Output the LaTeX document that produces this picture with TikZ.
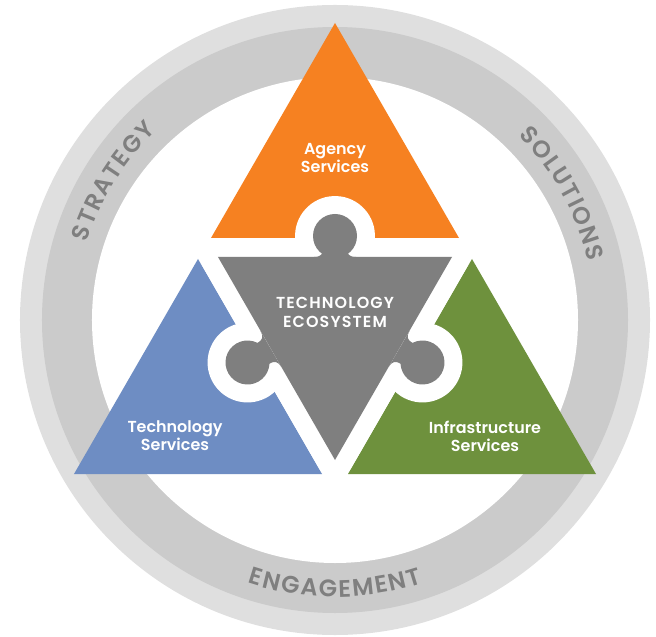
\documentclass[tikz,border=0pt]{standalone}
\usepackage{fontspec}
\setmainfont{Poppins}[UprightFont={* Medium},BoldFont={* SemiBold}]

\definecolor{ringlight}{HTML}{DFDFDF}
\definecolor{ringdark}{HTML}{CBCBCB}
\definecolor{ringtextgray}{HTML}{7F7F7F}
\definecolor{agencyorange}{HTML}{F68121}
\definecolor{techblue}{HTML}{6E8DC3}
\definecolor{infragreen}{HTML}{6E913D}
\definecolor{ecogray}{HTML}{7F7F7F}

\newcommand\ringfont{\bfseries\fontsize{24}{24}\selectfont}
\newcommand\ringtrack{1.6}
\newlength\arcw

% angles of the letters of a word set along a circle round the origin:
% #1 word key, #2 centre angle, #3 baseline radius,
% #4 direction (1 = counterclockwise, -1 = clockwise), #5 letters
\newcommand\preparearc[5]{%
  \gdef\arctotal{0}%
  \foreach \ch in {#5}{%
    \settowidth\arcw{\ringfont \ch}%
    \pgfmathparse{\arctotal+\arcw+\ringtrack}\xdef\arctotal{\pgfmathresult}}%
  \pgfmathparse{#2-(#4)*(\arctotal-\ringtrack)/2/#3*57.29578}\xdef\arcstart{\pgfmathresult}%
  \gdef\arccum{0}%
  \foreach \ch [count=\i] in {#5}{%
    \settowidth\arcw{\ringfont \ch}%
    \pgfmathparse{\arcstart+(#4)*(\arccum+\arcw/2)/#3*57.29578}%
    \expandafter\xdef\csname arcang-#1-\i\endcsname{\pgfmathresult}%
    \pgfmathparse{\arccum+\arcw+\ringtrack}\xdef\arccum{\pgfmathresult}}}

% the letters themselves, placed at the angles worked out above
\newcommand\arcword[5]{%
  \foreach \ch [count=\i] in {#5}{%
    \edef\ang{\csname arcang-#1-\i\endcsname}%
    \node[ringletter,rotate={\ang+(#4)*90}] (#1-\i) at (\ang:#3bp) {\ch};}}

% one puzzle knob: #1 path style, #2 foot point on the edge,
% #3 rotation, #4 distance of the lobe centre from the edge
\newcommand\ecoknob[4]{%
  \begin{scope}[shift={#2},rotate=#3]
    \path[#1] (0,#4) circle[radius=22bp];
    \path[#1] (21,0) .. controls (14,0) and (12,3) .. (12,8) -- (12,#4)
      -- (-12,#4) -- (-12,8) .. controls (-12,3) and (-14,0) .. (-21,0) -- cycle;
  \end{scope}}

% the central puzzle piece: inverted triangle with three knobs
\newcommand\ecopiece[1]{%
  \path[#1] (-117,63) -- (117,63) -- (0,-140) -- cycle;
  \ecoknob{#1}{(0,63)}{0}{21}
  \ecoknob{#1}{(-64.1,-29)}{120}{27}
  \ecoknob{#1}{(64.1,-29)}{-120}{27}}

\begin{document}
\preparearc{strategy}{148}{260}{-1}{S,T,R,A,T,E,G,Y}%
\preparearc{solutions}{29}{260}{-1}{S,O,L,U,T,I,O,N,S}%
\preparearc{engagement}{270}{277}{1}{E,N,G,A,G,E,M,E,N,T}%
\begin{tikzpicture}[x=1bp,y=1bp,
  halo/.style={fill=white,draw=white,line width=36bp,line join=round},
  piece/.style={fill=ecogray},
  ringletter/.style={anchor=base,inner sep=0pt,font=\ringfont,text=ringtextgray},
  svclabel/.style={text=white,font=\bfseries\fontsize{16}{18}\selectfont,align=center,inner sep=0pt},
  ecolabel/.style={text=white,font=\bfseries\fontsize{16}{19}\selectfont\addfontfeature{LetterSpace=7},align=center,inner sep=0pt}]

\useasboundingbox (-335,-317) rectangle (321,320);

% outer band
\fill[ringlight] (0,0) circle[radius=315bp];
\fill[ringdark] (0,0) circle[radius=293bp];
\fill[white] (0,0) circle[radius=243bp];

% words around the band
\arcword{strategy}{148}{260}{-1}{S,T,R,A,T,E,G,Y}
\arcword{solutions}{29}{260}{-1}{S,O,L,U,T,I,O,N,S}
\arcword{engagement}{270}{277}{1}{E,N,G,A,G,E,M,E,N,T}

% the three service triangles
\fill[agencyorange] (0,297) -- (124,82) -- (-124,82) -- cycle;
\fill[techblue] (-137,61) -- (-13,-154) -- (-261,-154) -- cycle;
\fill[infragreen] (137,61) -- (261,-154) -- (13,-154) -- cycle;

% the central piece, cut out of its neighbours by a white margin
\ecopiece{halo}
\ecopiece{piece}

% labels
\node[svclabel] (agency) at (0,162) {Agency\\Services};
\node[svclabel] (techsvc) at (-160,-116) {Technology\\Services};
\node[svclabel] (infrasvc) at (150,-116) {Infrastructure\\Services};
\node[ecolabel] (eco) at (0,8) {TECHNOLOGY\\ECOSYSTEM};
\end{tikzpicture}
\end{document}
